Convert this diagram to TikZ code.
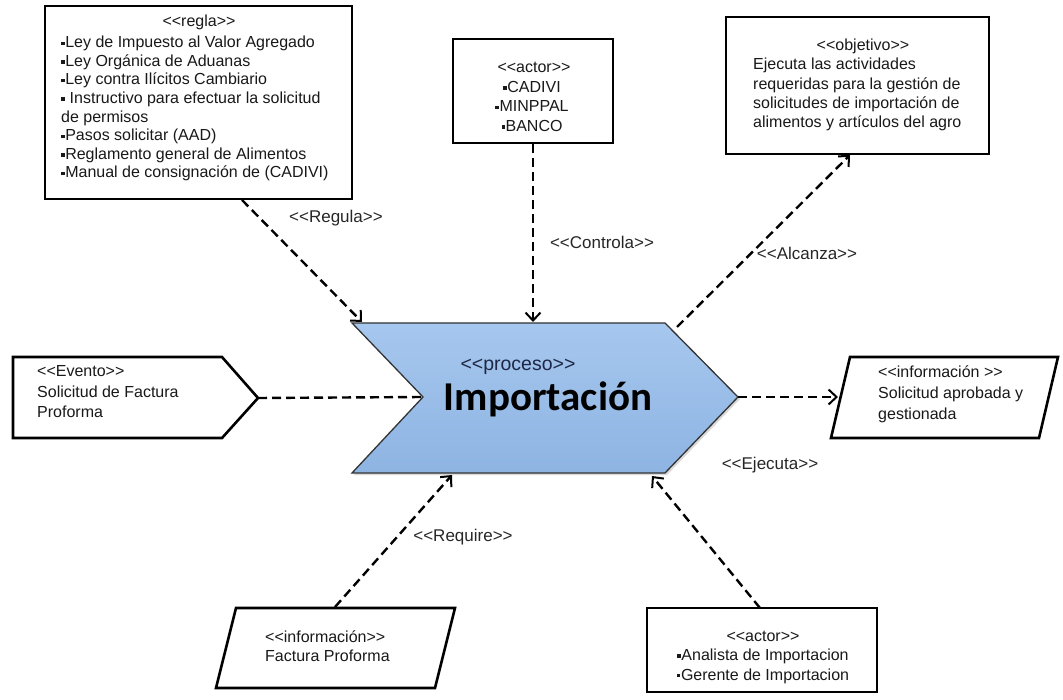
\documentclass[tikz,border=0pt]{standalone}
\usepackage{fontspec}
\setmainfont{Liberation Sans}
\newfontfamily\procfont{Carlito}
\usetikzlibrary{arrows.meta,shadows}

% small square bullet and guillemet-free stereotype brackets
\newcommand\sqb{\raisebox{2.7pt}{\rule{3.5pt}{3.5pt}}\kern0.6pt}
\newcommand\st[1]{<\kern0pt<#1>\kern0pt>}

\begin{document}
\begin{tikzpicture}[x=1pt,y=-1pt,
  box/.style={draw=black,line width=2.6pt,fill=white,inner sep=0pt},
  shp/.style={draw=black,line width=2.6pt,fill=white,line join=miter},
  txt/.style={inner sep=0pt,text=black!90,font=\fontsize{16}{19}\selectfont},
  lbl/.style={inner sep=0pt,text=black!85,font=\fontsize{17}{20}\selectfont},
  conn/.style={line width=2.4pt,dash pattern=on 9pt off 5pt},
  tip/.style={-{Straight Barb[length=8pt,width=15pt,line width=2pt]}}
]
\useasboundingbox (0,0) rectangle (1063,700);

% ---- central process chevron ----
\coordinate (chTL) at (352,323);
\coordinate (chTR) at (665,323);
\coordinate (chTip) at (738,397);
\coordinate (chBR) at (665,473);
\coordinate (chBL) at (352,473);
\coordinate (chNotch) at (423,397);
\path[draw=black!80,line width=1.3pt,line join=miter,
      top color={rgb,255:red,166;green,199;blue,238},
      bottom color={rgb,255:red,142;green,180;blue,227},
      drop shadow={opacity=0.3,shadow xshift=2pt,shadow yshift=-2pt}]
  (chTL) -- (chTR) -- (chTip) -- (chBR) -- (chBL) -- (chNotch) -- cycle;
\node[inner sep=0pt,font=\fontsize{19.5}{22}\selectfont,
      text={rgb,255:red,30;green,40;blue,70}] (proc) at (518,367) {\st{proceso}};
\node[inner sep=0pt,anchor=base,font=\procfont\bfseries\fontsize{41}{44}\selectfont] (imp)
  at (548,410) {Importación};

% ---- rule box ----
\node[box,minimum width=307pt,minimum height=193pt] (regla) at (198.5,102.5) {};
\node[txt] (reglaSt) at (199,22) {\st{regla}};
\node[txt,anchor=north west,align=left,font=\fontsize{16}{18.6}\selectfont] (reglaTx) at (61,36)
  {\sqb Ley de Impuesto al Valor Agregado\\
   \sqb Ley Orgánica  de Aduanas\\
   \sqb Ley contra Ilícitos Cambiario\\
   \sqb\ Instructivo para efectuar la solicitud\\
   de permisos\\
   \sqb Pasos solicitar (AAD)\\
   \sqb Reglamento general  de Alimentos\\
   \sqb Manual de consignación de (CADIVI)};

% ---- controlling actors ----
\node[box,minimum width=160pt,minimum height=104pt] (actor) at (533,91) {};
\node[txt] (actorSt) at (534,67) {\st{actor}};
\node[txt,anchor=north,align=center,font=\fontsize{16}{19.5}\selectfont] (actorTx) at (532,81)
  {\sqb CADIVI\\ \sqb MINPPAL\\ \sqb BANCO};

% ---- objective ----
\node[box,minimum width=263pt,minimum height=137pt] (obj) at (857.5,85.5) {};
\node[txt] (objSt) at (863,46) {\st{objetivo}};
\node[txt,anchor=north west,align=left,font=\fontsize{16}{19.3}\selectfont] (objTx) at (753,58)
  {Ejecuta las actividades\\
   requeridas para la gestión de\\
   solicitudes de importación de\\
   alimentos y artículos del agro};

% ---- triggering event ----
\draw[shp] (13,357) -- (222,357) -- (258,398) -- (222,438) -- (13,438) -- cycle;
\coordinate (evTip) at (258,398);
\node[txt,anchor=north west,align=left,font=\fontsize{16}{20.5}\selectfont] (evTx) at (37,365.5)
  {\st{Evento}\\ Solicitud de Factura\\ Proforma};

% ---- output information ----
\draw[shp] (850,357) -- (1058,357) -- (1039,438) -- (831,438) -- cycle;
\coordinate (infoIn) at (838,397);
\node[txt,anchor=north west,align=left,font=\fontsize{16}{21}\selectfont] (infoTx) at (878,365.5)
  {<\kern0pt<información >\kern0pt>\\ Solicitud aprobada y\\ gestionada};

% ---- input information ----
\draw[shp] (236,608) -- (455,608) -- (435,688) -- (216,688) -- cycle;
\node[txt,anchor=north west,align=left,font=\fontsize{16}{19.5}\selectfont] (factTx) at (265,630.5)
  {\st{información}\\ Factura Proforma};

% ---- executing actors ----
\node[box,minimum width=230pt,minimum height=84pt] (exec) at (762,650) {};
\node[txt,anchor=north,align=center,font=\fontsize{16}{19.5}\selectfont] (execTx) at (763,630.5)
  {\st{actor}\\ \sqb Analista de Importacion\\ \sqb Gerente de Importacion};

% ---- connector end points ----
\coordinate (reglaOut) at (242,200);
\coordinate (regEnd) at (362,322);
\coordinate (ctrlEnd) at (533,322);
\coordinate (alcStart) at (677,327);
\coordinate (objIn) at (850,155);
\coordinate (factOut) at (335,607);
\coordinate (reqEnd) at (452,475);
\coordinate (execOut) at (760,608);
\coordinate (ejeEnd) at (652,476);

% ---- connectors ----
\draw[conn,tip] (reglaOut) -- (regEnd);
\draw[conn,tip] (actor.south) -- (ctrlEnd);
\draw[conn,tip] (alcStart) -- (objIn);
\draw[conn] (evTip) -- (chNotch);
\draw[conn,tip] (chTip) -- (infoIn);
\draw[conn,tip] (factOut) -- (reqEnd);
\draw[conn,tip] (execOut) -- (ejeEnd);

% ---- connector labels ----
\node[lbl] (lRegula) at (336,218) {\st{Regula}};
\node[lbl] (lControla) at (602,242) {\st{Controla}};
\node[lbl] (lAlcanza) at (807,253) {\st{Alcanza}};
\node[lbl] (lRequire) at (463,537) {\st{Require}};
\node[lbl] (lEjecuta) at (770,465) {\st{Ejecuta}};
\end{tikzpicture}
\end{document}
